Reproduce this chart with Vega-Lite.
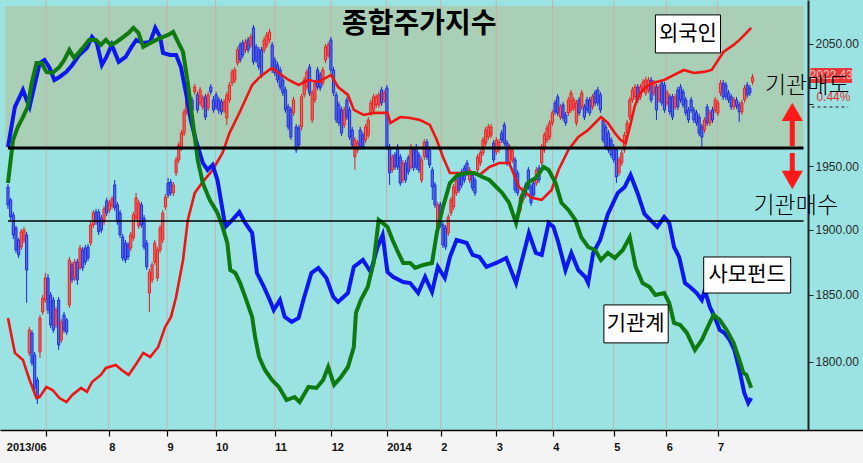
{
"$schema":"https://vega.github.io/schema/vega-lite/v6.json",
"width":863,"height":430,
"autosize":{"type":"none"},
"padding":{"left":0,"top":0,"right":0,"bottom":33},
"background":"#f4f4f4",
"config":{"view":{"fill":"#9be3e3","stroke":null},"font":"Liberation Sans"},
"datasets":{
"ticks":[{"d":14.3},{"d":37.8},{"d":59.6},{"d":77.8},{"d":100},{"d":121.1},{"d":141.9},{"d":162.2},{"d":183},{"d":204.1},{"d":227},{"d":246.7},{"d":265.9}],
"candles":[
{"d":0,"o":1933.5,"h":1935.9,"l":1916.2,"c":1919.4},
{"d":1,"o":1923.3,"h":1924.9,"l":1907.6,"c":1909.9},
{"d":2,"o":1911.5,"h":1913.9,"l":1892.8,"c":1895.9},
{"d":3,"o":1901.4,"h":1902.9,"l":1882.0,"c":1884.3},
{"d":4,"o":1892.0,"h":1893.6,"l":1878.1,"c":1880.5},
{"d":5,"o":1886.6,"h":1900.6,"l":1884.3,"c":1898.3},
{"d":6,"o":1892.0,"h":1902.2,"l":1889.7,"c":1899.8},
{"d":7,"o":1895.9,"h":1898.3,"l":1843.9,"c":1868.9},
{"d":8,"o":1806.6,"h":1825.9,"l":1804.3,"c":1823.6},
{"d":9,"o":1821.4,"h":1823.6,"l":1797.0,"c":1799.2},
{"d":10,"o":1805.1,"h":1807.3,"l":1777.2,"c":1780.9},
{"d":11,"o":1786.7,"h":1788.9,"l":1769.2,"c":1773.5},
{"d":12,"o":1807.3,"h":1834.9,"l":1802.9,"c":1832.6},
{"d":13,"o":1837.1,"h":1849.9,"l":1834.9,"c":1847.6},
{"d":14,"o":1846.1,"h":1866.6,"l":1843.9,"c":1862.8},
{"d":15,"o":1862.8,"h":1865.8,"l":1835.6,"c":1838.6},
{"d":16,"o":1849.9,"h":1852.2,"l":1825.1,"c":1827.4},
{"d":17,"o":1846.1,"h":1848.4,"l":1821.4,"c":1823.6},
{"d":18,"o":1827.4,"h":1840.9,"l":1825.1,"c":1838.6},
{"d":19,"o":1846.1,"h":1848.4,"l":1808.8,"c":1812.5},
{"d":20,"o":1816.2,"h":1831.9,"l":1814.0,"c":1829.6},
{"d":21,"o":1834.9,"h":1837.1,"l":1821.4,"c":1823.6},
{"d":22,"o":1831.1,"h":1832.6,"l":1819.9,"c":1822.1},
{"d":23,"o":1842.4,"h":1878.9,"l":1840.1,"c":1876.6},
{"d":24,"o":1872.8,"h":1875.1,"l":1859.0,"c":1861.3},
{"d":25,"o":1862.8,"h":1877.4,"l":1860.5,"c":1875.1},
{"d":26,"o":1875.1,"h":1877.4,"l":1857.5,"c":1861.3},
{"d":27,"o":1870.5,"h":1888.2,"l":1868.9,"c":1885.8},
{"d":28,"o":1884.3,"h":1886.6,"l":1868.1,"c":1870.5},
{"d":29,"o":1885.8,"h":1888.2,"l":1872.8,"c":1875.1},
{"d":30,"o":1886.6,"h":1889.0,"l":1875.8,"c":1878.1},
{"d":31,"o":1889.7,"h":1906.1,"l":1887.4,"c":1903.7},
{"d":32,"o":1903.7,"h":1915.4,"l":1901.4,"c":1913.1},
{"d":33,"o":1913.9,"h":1916.2,"l":1903.7,"c":1906.1},
{"d":34,"o":1913.9,"h":1916.2,"l":1895.9,"c":1898.3},
{"d":35,"o":1909.1,"h":1911.5,"l":1897.5,"c":1899.8},
{"d":36,"o":1906.1,"h":1918.6,"l":1903.7,"c":1916.2},
{"d":37,"o":1922.5,"h":1924.9,"l":1910.7,"c":1913.1},
{"d":38,"o":1915.4,"h":1923.3,"l":1913.1,"c":1920.9},
{"d":39,"o":1918.6,"h":1926.4,"l":1916.2,"c":1924.1},
{"d":40,"o":1935.1,"h":1939.0,"l":1914.6,"c":1917.0},
{"d":41,"o":1919.4,"h":1921.7,"l":1903.7,"c":1906.1},
{"d":42,"o":1913.1,"h":1915.4,"l":1893.6,"c":1895.9},
{"d":43,"o":1894.4,"h":1896.7,"l":1875.8,"c":1878.1},
{"d":44,"o":1889.7,"h":1892.0,"l":1874.3,"c":1876.6},
{"d":45,"o":1888.2,"h":1890.5,"l":1876.6,"c":1878.9},
{"d":46,"o":1885.8,"h":1898.3,"l":1883.5,"c":1895.9},
{"d":47,"o":1893.6,"h":1913.9,"l":1891.2,"c":1911.5},
{"d":48,"o":1909.1,"h":1928.8,"l":1906.8,"c":1924.9},
{"d":49,"o":1902.9,"h":1923.3,"l":1900.6,"c":1920.9},
{"d":50,"o":1919.4,"h":1921.7,"l":1901.4,"c":1903.7},
{"d":51,"o":1909.1,"h":1911.5,"l":1884.3,"c":1886.6},
{"d":52,"o":1889.7,"h":1892.0,"l":1868.9,"c":1871.3},
{"d":53,"o":1851.4,"h":1869.7,"l":1837.1,"c":1867.4},
{"d":54,"o":1861.3,"h":1875.1,"l":1859.0,"c":1872.8},
{"d":55,"o":1875.1,"h":1892.0,"l":1872.8,"c":1889.7},
{"d":56,"o":1862.8,"h":1886.6,"l":1860.5,"c":1884.3},
{"d":57,"o":1884.3,"h":1903.7,"l":1882.0,"c":1901.4},
{"d":58,"o":1892.0,"h":1915.4,"l":1889.7,"c":1913.1},
{"d":59,"o":1917.8,"h":1928.0,"l":1915.4,"c":1925.6},
{"d":60,"o":1936.6,"h":1940.6,"l":1924.9,"c":1927.2},
{"d":61,"o":1937.4,"h":1939.8,"l":1926.4,"c":1928.8},
{"d":62,"o":1928.8,"h":1937.4,"l":1926.4,"c":1935.1},
{"d":63,"o":1944.6,"h":1957.4,"l":1942.2,"c":1955.0},
{"d":64,"o":1955.0,"h":1969.4,"l":1952.6,"c":1967.0},
{"d":65,"o":1964.6,"h":1979.1,"l":1962.2,"c":1976.6},
{"d":66,"o":1976.6,"h":1996.2,"l":1974.2,"c":1993.8},
{"d":67,"o":1993.8,"h":2006.1,"l":1991.3,"c":2003.6},
{"d":68,"o":2006.1,"h":2008.5,"l":1995.4,"c":1997.9},
{"d":69,"o":2003.6,"h":2006.1,"l":1993.0,"c":1995.4},
{"d":70,"o":2010.2,"h":2016.7,"l":2007.7,"c":2014.3},
{"d":71,"o":2007.7,"h":2010.2,"l":1993.0,"c":1995.4},
{"d":72,"o":2001.2,"h":2014.3,"l":1998.7,"c":2011.8},
{"d":73,"o":1997.9,"h":2007.7,"l":1995.4,"c":2005.3},
{"d":74,"o":2006.1,"h":2008.5,"l":1987.2,"c":1989.6},
{"d":75,"o":1997.1,"h":2010.2,"l":1994.6,"c":2007.7},
{"d":76,"o":2014.3,"h":2016.7,"l":2007.7,"c":2010.2},
{"d":77,"o":2003.6,"h":2006.9,"l":1993.0,"c":1995.4},
{"d":78,"o":2007.7,"h":2010.2,"l":1995.4,"c":1997.9},
{"d":79,"o":2003.6,"h":2006.1,"l":1992.1,"c":1995.4},
{"d":80,"o":2002.0,"h":2004.4,"l":1991.3,"c":1993.8},
{"d":81,"o":1995.4,"h":2004.4,"l":1993.0,"c":2002.0},
{"d":82,"o":1988.8,"h":2010.2,"l":1983.2,"c":2007.7},
{"d":83,"o":2003.6,"h":2018.4,"l":2001.2,"c":2015.9},
{"d":84,"o":2017.5,"h":2029.1,"l":2015.1,"c":2026.7},
{"d":85,"o":2020.0,"h":2030.8,"l":2017.5,"c":2028.3},
{"d":86,"o":2034.1,"h":2047.5,"l":2031.7,"c":2045.0},
{"d":87,"o":2049.2,"h":2051.7,"l":2034.1,"c":2036.6},
{"d":88,"o":2050.8,"h":2053.4,"l":2038.3,"c":2040.8},
{"d":89,"o":2045.0,"h":2054.2,"l":2042.5,"c":2051.7},
{"d":90,"o":2053.4,"h":2055.9,"l":2042.5,"c":2045.0},
{"d":91,"o":2049.2,"h":2058.4,"l":2046.7,"c":2055.9},
{"d":92,"o":2063.5,"h":2066.0,"l":2032.5,"c":2035.0},
{"d":93,"o":2047.5,"h":2050.0,"l":2034.1,"c":2036.6},
{"d":94,"o":2045.0,"h":2047.5,"l":2028.3,"c":2030.8},
{"d":95,"o":2045.0,"h":2047.5,"l":2021.7,"c":2024.2},
{"d":96,"o":2045.0,"h":2055.9,"l":2042.5,"c":2053.4},
{"d":97,"o":2049.2,"h":2060.1,"l":2046.7,"c":2057.6},
{"d":98,"o":2053.4,"h":2062.6,"l":2050.8,"c":2060.1},
{"d":99,"o":2049.2,"h":2051.7,"l":2025.8,"c":2028.3},
{"d":100,"o":2036.6,"h":2039.1,"l":2023.3,"c":2025.8},
{"d":101,"o":2032.5,"h":2035.0,"l":2017.5,"c":2020.0},
{"d":102,"o":2028.3,"h":2030.8,"l":2011.8,"c":2014.3},
{"d":103,"o":2020.0,"h":2022.5,"l":2006.9,"c":2009.4},
{"d":104,"o":2011.8,"h":2014.3,"l":1993.0,"c":1995.4},
{"d":105,"o":1997.9,"h":2000.4,"l":1979.1,"c":1981.6},
{"d":106,"o":1995.4,"h":1997.9,"l":1971.0,"c":1973.4},
{"d":107,"o":1993.0,"h":2006.1,"l":1990.5,"c":2003.6},
{"d":108,"o":1981.6,"h":1984.0,"l":1960.6,"c":1963.0},
{"d":109,"o":1980.7,"h":1983.2,"l":1964.6,"c":1967.0},
{"d":110,"o":1981.6,"h":2008.5,"l":1979.1,"c":2006.1},
{"d":111,"o":2007.7,"h":2022.5,"l":2005.3,"c":2020.0},
{"d":112,"o":2014.3,"h":2029.1,"l":2011.8,"c":2026.7},
{"d":113,"o":2030.8,"h":2033.3,"l":2006.9,"c":2009.4},
{"d":114,"o":1987.2,"h":2011.8,"l":1984.8,"c":2009.4},
{"d":115,"o":2003.6,"h":2020.0,"l":2001.2,"c":2017.5},
{"d":116,"o":2028.3,"h":2030.8,"l":2011.8,"c":2014.3},
{"d":117,"o":2024.2,"h":2026.7,"l":2011.0,"c":2013.4},
{"d":118,"o":2017.5,"h":2030.8,"l":2015.1,"c":2028.3},
{"d":119,"o":2036.6,"h":2050.0,"l":2034.1,"c":2047.5},
{"d":120,"o":2040.8,"h":2051.7,"l":2038.3,"c":2049.2},
{"d":121,"o":2053.4,"h":2055.9,"l":2025.8,"c":2028.3},
{"d":122,"o":2028.3,"h":2030.8,"l":2006.9,"c":2009.4},
{"d":123,"o":2007.7,"h":2010.2,"l":1984.8,"c":1987.2},
{"d":124,"o":1999.5,"h":2002.0,"l":1982.4,"c":1984.8},
{"d":125,"o":1995.4,"h":1997.9,"l":1974.2,"c":1976.6},
{"d":126,"o":1983.2,"h":1997.9,"l":1980.7,"c":1995.4},
{"d":127,"o":2003.6,"h":2006.1,"l":1987.2,"c":1989.6},
{"d":128,"o":1995.4,"h":1997.9,"l":1971.0,"c":1973.4},
{"d":129,"o":1979.1,"h":1981.6,"l":1964.6,"c":1967.0},
{"d":130,"o":1957.4,"h":1973.4,"l":1947.0,"c":1971.0},
{"d":131,"o":1963.0,"h":1971.0,"l":1960.6,"c":1968.6},
{"d":132,"o":1979.1,"h":1981.6,"l":1963.0,"c":1965.4},
{"d":133,"o":1975.0,"h":1977.4,"l":1963.0,"c":1965.4},
{"d":134,"o":1971.0,"h":1984.0,"l":1968.6,"c":1981.6},
{"d":135,"o":1975.0,"h":1989.6,"l":1972.6,"c":1987.2},
{"d":136,"o":1993.0,"h":2003.6,"l":1990.5,"c":2001.2},
{"d":137,"o":1995.4,"h":2008.5,"l":1993.0,"c":2006.1},
{"d":138,"o":1999.5,"h":2008.5,"l":1997.1,"c":2006.1},
{"d":139,"o":1999.5,"h":2010.2,"l":1997.1,"c":2007.7},
{"d":140,"o":2011.8,"h":2014.3,"l":1998.7,"c":2001.2},
{"d":141,"o":2003.6,"h":2011.8,"l":2001.2,"c":2009.4},
{"d":142,"o":2013.4,"h":2015.9,"l":1963.0,"c":1965.4},
{"d":143,"o":1965.4,"h":1967.8,"l":1935.1,"c":1944.6},
{"d":144,"o":1947.0,"h":1959.8,"l":1944.6,"c":1957.4},
{"d":145,"o":1959.0,"h":1961.4,"l":1947.0,"c":1949.4},
{"d":146,"o":1965.4,"h":1967.8,"l":1947.0,"c":1949.4},
{"d":147,"o":1957.4,"h":1959.8,"l":1934.3,"c":1936.6},
{"d":148,"o":1939.0,"h":1955.0,"l":1936.6,"c":1952.6},
{"d":149,"o":1952.6,"h":1955.0,"l":1936.6,"c":1939.0},
{"d":150,"o":1956.6,"h":1959.0,"l":1943.0,"c":1945.4},
{"d":151,"o":1949.4,"h":1967.8,"l":1947.0,"c":1965.4},
{"d":152,"o":1963.0,"h":1965.4,"l":1946.2,"c":1948.6},
{"d":153,"o":1965.4,"h":1967.8,"l":1947.0,"c":1949.4},
{"d":154,"o":1959.0,"h":1961.4,"l":1944.6,"c":1947.0},
{"d":155,"o":1939.0,"h":1957.4,"l":1936.6,"c":1955.0},
{"d":156,"o":1957.4,"h":1971.8,"l":1955.0,"c":1969.4},
{"d":157,"o":1969.4,"h":1971.8,"l":1955.0,"c":1957.4},
{"d":158,"o":1963.0,"h":1965.4,"l":1948.6,"c":1951.0},
{"d":159,"o":1947.0,"h":1949.4,"l":1923.3,"c":1933.5},
{"d":160,"o":1935.1,"h":1937.4,"l":1917.0,"c":1919.4},
{"d":161,"o":1899.8,"h":1921.7,"l":1895.9,"c":1919.4},
{"d":162,"o":1919.4,"h":1921.7,"l":1901.4,"c":1903.7},
{"d":163,"o":1903.7,"h":1906.1,"l":1885.8,"c":1888.2},
{"d":164,"o":1901.4,"h":1903.7,"l":1884.3,"c":1886.6},
{"d":165,"o":1897.5,"h":1912.3,"l":1895.1,"c":1909.9},
{"d":166,"o":1913.1,"h":1925.6,"l":1910.7,"c":1923.3},
{"d":167,"o":1917.8,"h":1935.9,"l":1915.4,"c":1933.5},
{"d":168,"o":1928.8,"h":1941.4,"l":1926.4,"c":1939.0},
{"d":169,"o":1941.4,"h":1943.8,"l":1928.8,"c":1931.1},
{"d":170,"o":1945.4,"h":1947.8,"l":1932.7,"c":1935.1},
{"d":171,"o":1948.6,"h":1951.0,"l":1936.6,"c":1939.0},
{"d":172,"o":1952.6,"h":1955.0,"l":1942.2,"c":1944.6},
{"d":173,"o":1939.0,"h":1949.4,"l":1936.6,"c":1947.0},
{"d":174,"o":1943.0,"h":1945.4,"l":1930.3,"c":1932.7},
{"d":175,"o":1939.0,"h":1941.4,"l":1926.4,"c":1928.8},
{"d":176,"o":1947.0,"h":1959.8,"l":1944.6,"c":1957.4},
{"d":177,"o":1952.6,"h":1963.0,"l":1950.2,"c":1960.6},
{"d":178,"o":1960.6,"h":1973.4,"l":1958.2,"c":1971.0},
{"d":179,"o":1968.6,"h":1981.6,"l":1966.2,"c":1979.1},
{"d":180,"o":1973.4,"h":1984.0,"l":1971.0,"c":1981.6},
{"d":181,"o":1975.0,"h":1984.0,"l":1972.6,"c":1981.6},
{"d":182,"o":1968.6,"h":1971.0,"l":1952.6,"c":1955.0},
{"d":183,"o":1961.4,"h":1973.4,"l":1959.0,"c":1971.0},
{"d":184,"o":1963.0,"h":1971.8,"l":1960.6,"c":1969.4},
{"d":185,"o":1976.6,"h":1979.1,"l":1968.6,"c":1971.0},
{"d":186,"o":1983.2,"h":1985.6,"l":1966.2,"c":1968.6},
{"d":187,"o":1968.6,"h":1971.0,"l":1950.2,"c":1952.6},
{"d":188,"o":1952.6,"h":1967.8,"l":1950.2,"c":1965.4},
{"d":189,"o":1955.0,"h":1965.4,"l":1952.6,"c":1963.0},
{"d":190,"o":1955.0,"h":1957.4,"l":1928.8,"c":1931.1},
{"d":191,"o":1944.6,"h":1947.0,"l":1926.4,"c":1928.8},
{"d":192,"o":1915.4,"h":1928.0,"l":1913.1,"c":1925.6},
{"d":193,"o":1923.3,"h":1933.5,"l":1920.9,"c":1931.1},
{"d":194,"o":1935.1,"h":1937.4,"l":1924.9,"c":1927.2},
{"d":195,"o":1947.0,"h":1949.4,"l":1931.1,"c":1933.5},
{"d":196,"o":1933.5,"h":1935.9,"l":1918.6,"c":1920.9},
{"d":197,"o":1936.6,"h":1939.0,"l":1924.9,"c":1927.2},
{"d":198,"o":1936.6,"h":1949.4,"l":1934.3,"c":1947.0},
{"d":199,"o":1948.6,"h":1951.0,"l":1936.6,"c":1939.0},
{"d":200,"o":1952.6,"h":1967.8,"l":1950.2,"c":1965.4},
{"d":201,"o":1963.0,"h":1977.4,"l":1960.6,"c":1975.0},
{"d":202,"o":1971.0,"h":1983.2,"l":1968.6,"c":1980.7},
{"d":203,"o":1973.4,"h":1987.2,"l":1971.0,"c":1984.8},
{"d":204,"o":1984.8,"h":1995.4,"l":1982.4,"c":1993.0},
{"d":205,"o":2001.2,"h":2003.6,"l":1991.3,"c":1993.8},
{"d":206,"o":2006.1,"h":2008.5,"l":1990.5,"c":1993.0},
{"d":207,"o":1989.6,"h":2000.4,"l":1987.2,"c":1997.9},
{"d":208,"o":1999.5,"h":2002.0,"l":1986.4,"c":1988.8},
{"d":209,"o":1991.3,"h":1993.8,"l":1982.4,"c":1984.8},
{"d":210,"o":1993.0,"h":2006.1,"l":1990.5,"c":2003.6},
{"d":211,"o":1995.4,"h":2011.8,"l":1993.0,"c":2009.4},
{"d":212,"o":1997.1,"h":2006.1,"l":1994.6,"c":2003.6},
{"d":213,"o":1984.8,"h":2003.6,"l":1982.4,"c":2001.2},
{"d":214,"o":2003.6,"h":2006.1,"l":1990.5,"c":1993.0},
{"d":215,"o":1997.9,"h":2011.8,"l":1995.4,"c":2009.4},
{"d":216,"o":1997.9,"h":2000.4,"l":1987.2,"c":1989.6},
{"d":217,"o":2003.6,"h":2006.1,"l":1993.0,"c":1995.4},
{"d":218,"o":2003.6,"h":2006.1,"l":1990.5,"c":1993.0},
{"d":219,"o":1997.9,"h":2008.5,"l":1995.4,"c":2006.1},
{"d":220,"o":2009.4,"h":2011.8,"l":1998.7,"c":2001.2},
{"d":221,"o":2011.8,"h":2014.3,"l":1998.7,"c":2001.2},
{"d":222,"o":2007.7,"h":2010.2,"l":1993.0,"c":1995.4},
{"d":223,"o":1987.2,"h":1989.6,"l":1968.6,"c":1971.0},
{"d":224,"o":1981.6,"h":1984.0,"l":1963.0,"c":1965.4},
{"d":225,"o":1976.6,"h":1979.1,"l":1960.6,"c":1963.0},
{"d":226,"o":1971.0,"h":1973.4,"l":1956.6,"c":1959.0},
{"d":227,"o":1965.4,"h":1967.8,"l":1952.6,"c":1955.0},
{"d":228,"o":1963.0,"h":1965.4,"l":1936.6,"c":1941.4},
{"d":229,"o":1944.6,"h":1957.4,"l":1942.2,"c":1955.0},
{"d":230,"o":1952.6,"h":1963.0,"l":1950.2,"c":1960.6},
{"d":231,"o":1963.0,"h":1977.4,"l":1960.6,"c":1975.0},
{"d":232,"o":1976.6,"h":1987.2,"l":1974.2,"c":1984.8},
{"d":233,"o":1989.6,"h":2006.1,"l":1987.2,"c":2003.6},
{"d":234,"o":2003.6,"h":2014.3,"l":2001.2,"c":2011.8},
{"d":235,"o":2006.1,"h":2016.7,"l":2003.6,"c":2014.3},
{"d":236,"o":2014.3,"h":2016.7,"l":2001.2,"c":2003.6},
{"d":237,"o":2006.1,"h":2016.7,"l":2003.6,"c":2014.3},
{"d":238,"o":2011.8,"h":2020.8,"l":2009.4,"c":2018.4},
{"d":239,"o":2009.4,"h":2022.5,"l":2006.9,"c":2020.0},
{"d":240,"o":2011.8,"h":2022.5,"l":2009.4,"c":2020.0},
{"d":241,"o":2020.0,"h":2022.5,"l":2001.2,"c":2003.6},
{"d":242,"o":2009.4,"h":2020.0,"l":2006.9,"c":2017.5},
{"d":243,"o":2014.3,"h":2016.7,"l":1987.2,"c":1995.4},
{"d":244,"o":2003.6,"h":2016.7,"l":2001.2,"c":2014.3},
{"d":245,"o":2017.5,"h":2020.0,"l":1998.7,"c":2001.2},
{"d":246,"o":2015.9,"h":2018.4,"l":1993.0,"c":1995.4},
{"d":247,"o":2001.2,"h":2011.8,"l":1998.7,"c":2009.4},
{"d":248,"o":2006.1,"h":2008.5,"l":1991.3,"c":1993.8},
{"d":249,"o":2006.1,"h":2008.5,"l":1987.2,"c":1989.6},
{"d":250,"o":1997.9,"h":2008.5,"l":1995.4,"c":2006.1},
{"d":251,"o":2011.8,"h":2014.3,"l":1995.4,"c":1997.9},
{"d":252,"o":2014.3,"h":2016.7,"l":2001.2,"c":2003.6},
{"d":253,"o":2010.2,"h":2012.6,"l":1997.1,"c":1999.5},
{"d":254,"o":2003.6,"h":2006.1,"l":1990.5,"c":1993.0},
{"d":255,"o":1995.4,"h":1997.9,"l":1984.8,"c":1987.2},
{"d":256,"o":2003.6,"h":2006.1,"l":1993.0,"c":1995.4},
{"d":257,"o":1995.4,"h":1997.9,"l":1984.8,"c":1987.2},
{"d":258,"o":1993.0,"h":1995.4,"l":1982.4,"c":1984.8},
{"d":259,"o":1989.6,"h":1992.1,"l":1974.2,"c":1976.6},
{"d":260,"o":1981.6,"h":1984.0,"l":1965.4,"c":1973.4},
{"d":261,"o":1979.1,"h":1989.6,"l":1976.6,"c":1987.2},
{"d":262,"o":1997.9,"h":2000.4,"l":1982.4,"c":1984.8},
{"d":263,"o":1984.8,"h":1995.4,"l":1982.4,"c":1993.0},
{"d":264,"o":1995.4,"h":1997.9,"l":1984.8,"c":1987.2},
{"d":265,"o":1995.4,"h":2006.1,"l":1993.0,"c":2003.6},
{"d":266,"o":1993.0,"h":2003.6,"l":1990.5,"c":2001.2},
{"d":267,"o":2009.4,"h":2020.0,"l":2006.9,"c":2017.5},
{"d":268,"o":2017.5,"h":2020.0,"l":2003.6,"c":2006.1},
{"d":269,"o":2015.9,"h":2018.4,"l":2003.6,"c":2006.1},
{"d":270,"o":2009.4,"h":2011.8,"l":2001.2,"c":2003.6},
{"d":271,"o":2006.1,"h":2008.5,"l":1995.4,"c":1997.9},
{"d":272,"o":1997.9,"h":2006.1,"l":1995.4,"c":2003.6},
{"d":273,"o":2003.6,"h":2006.1,"l":1996.2,"c":1998.7},
{"d":274,"o":1999.5,"h":2002.0,"l":1985.6,"c":1993.8},
{"d":275,"o":1993.8,"h":2003.6,"l":1991.3,"c":2001.2},
{"d":276,"o":2003.6,"h":2015.9,"l":2001.2,"c":2013.4},
{"d":277,"o":2015.9,"h":2018.4,"l":2005.3,"c":2007.7},
{"d":278,"o":2013.4,"h":2015.9,"l":2006.9,"c":2009.4},
{"d":279,"o":2018.4,"h":2025.0,"l":2015.9,"c":2022.4}
],
"foreign":[{"d":0,"v":1832.6},{"d":2.6,"v":1806.6},{"d":5.6,"v":1801.4},{"d":8.1,"v":1786.7},{"d":10.7,"v":1773.5},{"d":11.9,"v":1774.3},{"d":14.4,"v":1781.6},{"d":16.7,"v":1779.4},{"d":19.3,"v":1773.5},{"d":21.9,"v":1770.6},{"d":24.1,"v":1775.8},{"d":27.4,"v":1780.9},{"d":29.6,"v":1778.0},{"d":31.5,"v":1785.2},{"d":34.8,"v":1790.4},{"d":36.7,"v":1795.5},{"d":40.4,"v":1797.7},{"d":42.6,"v":1794.0},{"d":45.2,"v":1790.4},{"d":47.8,"v":1797.7},{"d":50.7,"v":1806.6},{"d":53.3,"v":1803.6},{"d":56.3,"v":1811.0},{"d":58.9,"v":1825.9},{"d":61.1,"v":1833.4},{"d":63.0,"v":1848.4},{"d":65.6,"v":1876.6},{"d":67.4,"v":1907.6},{"d":70.0,"v":1928.8},{"d":73.0,"v":1937.5},{"d":76.7,"v":1947.0},{"d":80.4,"v":1960.6},{"d":83.0,"v":1976.6},{"d":86.7,"v":1992.9},{"d":91.5,"v":2015.9},{"d":94.4,"v":2022.5},{"d":98.9,"v":2030.0},{"d":101.5,"v":2025.8},{"d":105.2,"v":2020.0},{"d":108.9,"v":2015.9},{"d":112.6,"v":2020.0},{"d":116.3,"v":2018.4},{"d":121.1,"v":2024.2},{"d":123.7,"v":2014.2},{"d":127.4,"v":2007.7},{"d":129.6,"v":1995.4},{"d":133.3,"v":1991.3},{"d":137.0,"v":1993.0},{"d":142.2,"v":1993.0},{"d":143.3,"v":1984.8},{"d":147.0,"v":1989.6},{"d":150.7,"v":1988.8},{"d":154.4,"v":1987.2},{"d":158.1,"v":1983.2},{"d":160.7,"v":1971.0},{"d":163.0,"v":1957.4},{"d":165.6,"v":1944.6},{"d":169.3,"v":1944.6},{"d":173.0,"v":1944.6},{"d":176.7,"v":1943.0},{"d":180.4,"v":1949.4},{"d":184.1,"v":1952.6},{"d":187.8,"v":1952.6},{"d":191.5,"v":1933.5},{"d":194.1,"v":1928.8},{"d":196.3,"v":1924.9},{"d":200.0,"v":1923.3},{"d":203.7,"v":1931.1},{"d":206.3,"v":1947.0},{"d":210.0,"v":1963.0},{"d":213.7,"v":1973.4},{"d":217.4,"v":1979.1},{"d":222.2,"v":1989.6},{"d":224.8,"v":1984.8},{"d":227.4,"v":1976.6},{"d":229.6,"v":1971.0},{"d":231.5,"v":1968.6},{"d":233.3,"v":1984.0},{"d":234.8,"v":1998.0},{"d":236.5,"v":2008.0},{"d":239.0,"v":2014.2},{"d":241.5,"v":2017.5},{"d":245.9,"v":2020.0},{"d":249.6,"v":2024.2},{"d":253.3,"v":2028.3},{"d":257.0,"v":2025.8},{"d":260.7,"v":2026.7},{"d":263.7,"v":2028.3},{"d":268.1,"v":2043.3},{"d":271.9,"v":2049.2},{"d":274.1,"v":2053.4},{"d":276.7,"v":2059.3},{"d":278.5,"v":2063.5}],
"fund":[{"d":0,"v":1965.4},{"d":2.6,"v":1997.9},{"d":4.4,"v":2006.1},{"d":5.6,"v":2011.8},{"d":7.0,"v":2003.6},{"d":8.1,"v":1997.9},{"d":10.0,"v":2015.9},{"d":11.9,"v":2034.1},{"d":13.7,"v":2036.6},{"d":15.6,"v":2030.0},{"d":17.4,"v":2020.0},{"d":19.3,"v":2022.5},{"d":21.9,"v":2026.7},{"d":24.1,"v":2032.5},{"d":26.7,"v":2040.8},{"d":29.6,"v":2046.7},{"d":31.5,"v":2055.9},{"d":33.3,"v":2050.8},{"d":35.2,"v":2032.5},{"d":36.7,"v":2038.3},{"d":38.9,"v":2049.2},{"d":41.5,"v":2035.0},{"d":44.1,"v":2039.1},{"d":46.3,"v":2047.5},{"d":48.1,"v":2053.4},{"d":50.7,"v":2050.8},{"d":53.3,"v":2051.7},{"d":55.2,"v":2063.5},{"d":57.0,"v":2055.9},{"d":58.1,"v":2042.5},{"d":60.7,"v":2040.8},{"d":63.0,"v":2040.8},{"d":64.8,"v":2030.8},{"d":66.7,"v":2009.3},{"d":68.5,"v":1987.2},{"d":70.4,"v":1971.0},{"d":73.0,"v":1952.6},{"d":74.8,"v":1947.0},{"d":76.7,"v":1951.0},{"d":78.5,"v":1939.0},{"d":80.4,"v":1915.4},{"d":81.5,"v":1902.2},{"d":84.1,"v":1907.6},{"d":86.7,"v":1913.8},{"d":88.9,"v":1905.3},{"d":91.5,"v":1897.5},{"d":93.3,"v":1866.6},{"d":95.9,"v":1856.0},{"d":98.1,"v":1846.1},{"d":99.6,"v":1838.6},{"d":101.9,"v":1846.1},{"d":103.7,"v":1833.4},{"d":106.3,"v":1829.6},{"d":108.9,"v":1832.6},{"d":110.7,"v":1846.1},{"d":113.7,"v":1866.6},{"d":116.3,"v":1870.5},{"d":119.3,"v":1862.8},{"d":121.9,"v":1848.4},{"d":123.7,"v":1844.6},{"d":127.4,"v":1851.4},{"d":129.6,"v":1871.3},{"d":133.0,"v":1876.6},{"d":135.9,"v":1867.4},{"d":138.5,"v":1886.6},{"d":140.4,"v":1895.9},{"d":142.2,"v":1867.4},{"d":144.4,"v":1863.6},{"d":148.1,"v":1859.8},{"d":150.7,"v":1859.0},{"d":153.7,"v":1851.4},{"d":156.3,"v":1863.6},{"d":158.9,"v":1852.2},{"d":161.1,"v":1871.3},{"d":163.7,"v":1862.8},{"d":165.6,"v":1878.9},{"d":168.1,"v":1892.0},{"d":171.9,"v":1889.7},{"d":174.1,"v":1880.5},{"d":176.7,"v":1878.9},{"d":179.3,"v":1871.3},{"d":183.0,"v":1874.3},{"d":186.7,"v":1878.1},{"d":190.4,"v":1859.0},{"d":193.3,"v":1882.0},{"d":195.2,"v":1897.5},{"d":197.8,"v":1882.0},{"d":200.0,"v":1880.5},{"d":202.6,"v":1905.3},{"d":204.4,"v":1902.2},{"d":206.3,"v":1889.7},{"d":208.9,"v":1868.9},{"d":211.1,"v":1882.0},{"d":213.7,"v":1868.9},{"d":216.3,"v":1863.6},{"d":217.4,"v":1859.0},{"d":219.3,"v":1882.0},{"d":221.9,"v":1892.0},{"d":224.8,"v":1912.3},{"d":225.9,"v":1917.0},{"d":228.5,"v":1928.8},{"d":231.1,"v":1933.5},{"d":233.3,"v":1943.0},{"d":235.9,"v":1928.8},{"d":238.5,"v":1912.3},{"d":240.7,"v":1907.6},{"d":243.3,"v":1902.2},{"d":245.9,"v":1909.9},{"d":247.8,"v":1905.3},{"d":249.6,"v":1886.6},{"d":251.5,"v":1878.9},{"d":253.7,"v":1859.0},{"d":255.6,"v":1856.0},{"d":258.1,"v":1851.4},{"d":260.0,"v":1846.1},{"d":261.1,"v":1853.7},{"d":263.0,"v":1840.9},{"d":264.8,"v":1833.4},{"d":266.7,"v":1823.6},{"d":268.5,"v":1821.4},{"d":270.4,"v":1816.2},{"d":272.2,"v":1808.8},{"d":274.1,"v":1794.0},{"d":275.9,"v":1777.2},{"d":277.4,"v":1769.9},{"d":278.5,"v":1773.5}],
"inst":[{"d":0,"v":1936.7},{"d":1.9,"v":1971.0},{"d":3.7,"v":1981.5},{"d":5.6,"v":1989.6},{"d":7.4,"v":1997.9},{"d":8.9,"v":2017.5},{"d":10.7,"v":2034.1},{"d":12.6,"v":2034.1},{"d":14.4,"v":2026.7},{"d":16.7,"v":2025.8},{"d":19.3,"v":2030.8},{"d":21.1,"v":2036.6},{"d":23.0,"v":2045.0},{"d":24.8,"v":2038.3},{"d":27.4,"v":2045.0},{"d":30.4,"v":2053.4},{"d":33.0,"v":2053.4},{"d":34.8,"v":2049.2},{"d":36.7,"v":2053.4},{"d":38.5,"v":2049.2},{"d":40.7,"v":2051.7},{"d":43.3,"v":2055.9},{"d":45.2,"v":2059.3},{"d":47.0,"v":2063.5},{"d":48.9,"v":2059.3},{"d":50.7,"v":2047.5},{"d":53.3,"v":2050.8},{"d":55.6,"v":2053.4},{"d":58.1,"v":2055.9},{"d":60.0,"v":2057.6},{"d":61.9,"v":2060.1},{"d":63.7,"v":2051.7},{"d":65.6,"v":2043.3},{"d":67.4,"v":2017.5},{"d":69.3,"v":1984.8},{"d":71.1,"v":1955.0},{"d":73.0,"v":1936.7},{"d":75.6,"v":1923.3},{"d":78.5,"v":1913.1},{"d":80.4,"v":1902.2},{"d":82.2,"v":1889.7},{"d":83.3,"v":1868.9},{"d":85.2,"v":1866.6},{"d":87.0,"v":1859.0},{"d":88.9,"v":1848.4},{"d":91.5,"v":1833.4},{"d":92.6,"v":1818.4},{"d":94.1,"v":1803.6},{"d":96.3,"v":1794.0},{"d":98.9,"v":1786.7},{"d":101.5,"v":1781.6},{"d":104.4,"v":1772.1},{"d":107.4,"v":1774.3},{"d":109.3,"v":1770.6},{"d":112.6,"v":1781.6},{"d":115.6,"v":1780.9},{"d":118.1,"v":1786.7},{"d":120.0,"v":1796.2},{"d":122.2,"v":1783.1},{"d":124.8,"v":1788.9},{"d":127.4,"v":1796.2},{"d":129.6,"v":1811.0},{"d":130.4,"v":1836.4},{"d":132.2,"v":1846.1},{"d":134.8,"v":1856.0},{"d":137.0,"v":1874.3},{"d":138.9,"v":1907.6},{"d":140.4,"v":1905.3},{"d":142.2,"v":1902.2},{"d":144.1,"v":1892.0},{"d":146.3,"v":1882.0},{"d":148.1,"v":1874.3},{"d":150.7,"v":1874.3},{"d":152.6,"v":1870.5},{"d":155.6,"v":1872.8},{"d":158.9,"v":1874.3},{"d":160.7,"v":1897.5},{"d":163.0,"v":1917.8},{"d":165.6,"v":1936.7},{"d":168.5,"v":1943.0},{"d":171.9,"v":1944.6},{"d":174.8,"v":1944.6},{"d":177.8,"v":1941.4},{"d":180.4,"v":1939.0},{"d":183.0,"v":1933.5},{"d":185.2,"v":1928.8},{"d":187.8,"v":1920.9},{"d":190.4,"v":1905.3},{"d":192.6,"v":1925.6},{"d":195.2,"v":1937.5},{"d":197.8,"v":1940.6},{"d":200.7,"v":1949.4},{"d":202.6,"v":1947.0},{"d":205.2,"v":1936.7},{"d":207.4,"v":1921.0},{"d":210.0,"v":1915.4},{"d":212.6,"v":1907.6},{"d":214.8,"v":1894.3},{"d":217.4,"v":1886.6},{"d":220.0,"v":1884.3},{"d":222.2,"v":1876.6},{"d":224.8,"v":1882.0},{"d":227.4,"v":1878.1},{"d":230.4,"v":1884.3},{"d":233.0,"v":1894.3},{"d":235.2,"v":1871.3},{"d":237.8,"v":1859.0},{"d":240.4,"v":1856.0},{"d":242.6,"v":1849.9},{"d":245.9,"v":1851.4},{"d":247.8,"v":1843.9},{"d":249.6,"v":1828.9},{"d":251.9,"v":1827.4},{"d":254.4,"v":1821.4},{"d":257.4,"v":1808.8},{"d":260.0,"v":1816.2},{"d":262.6,"v":1827.4},{"d":264.4,"v":1834.9},{"d":266.7,"v":1831.1},{"d":269.3,"v":1823.6},{"d":271.9,"v":1814.0},{"d":273.7,"v":1803.6},{"d":275.6,"v":1791.8},{"d":276.7,"v":1790.4},{"d":278.5,"v":1780.9}]
},
"layer":[
{"data":{"values":[{}]},"mark":{"type":"rect","color":"#a9cfb6"},
 "encoding":{
  "x":{"datum":-1.111,"type":"quantitative","scale":{"type":"linear","domain":[-1.111,318.52],"nice":false,"zero":false},
   "axis":{"title":null,"values":[14.3,37.8,59.6,77.8,100,121.1,141.9,162.2,183,204.1,227,246.7,265.9],
    "labelExpr":"['2013/06','8','9','10','11','12','2014','2','3','4','5','6','7'][indexof([14.3,37.8,59.6,77.8,100,121.1,141.9,162.2,183,204.1,227,246.7,265.9], datum.value)]",
    "labelAlign":{"condition":{"test":"datum.value < 20","value":"right"},"value":"left"},
    "labelFlush":false,"labelOverlap":false,"grid":false,"domainColor":"#000000","domainWidth":1.5,"tickColor":"#000000","tickSize":6,"tickWidth":1.2,
    "labelFont":"Liberation Sans","labelFontSize":11,"labelFontWeight":"bold","labelColor":"#111111","labelPadding":5}},
  "x2":{"datum":298.1},
  "y":{"datum":2082,"type":"quantitative","scale":{"type":"log","domain":[1750.5,2087.2],"nice":false,"zero":false},
   "axis":{"title":null,"orient":"right","offset":-55,"values":[1800,1850,1900,1950,2000,2050],
    "labelExpr":"datum.value == 2000 ? '' : format(datum.value, '.2f')","grid":false,"labelOverlap":false,"labelFlush":false,
    "domainColor":"#222222","domainWidth":2,"tickColor":"#222222","tickSize":5,"labelFont":"Liberation Sans","labelFontSize":12,"labelColor":"#2a2a2a","labelPadding":2}},
  "y2":{"datum":1964.6}}},
{"data":{"name":"ticks"},"mark":{"type":"rule","color":"#c3b3ae","strokeWidth":1},
 "encoding":{"x":{"field":"d","type":"quantitative","scale":{"type":"linear","domain":[-1.111,318.52],"nice":false,"zero":false}}}},
{"data":{"name":"candles"},"mark":{"type":"rule","strokeWidth":1},
 "encoding":{"x":{"field":"d","type":"quantitative","scale":{"type":"linear","domain":[-1.111,318.52],"nice":false,"zero":false}},
  "y":{"field":"l","type":"quantitative","scale":{"type":"log","domain":[1750.5,2087.2],"nice":false,"zero":false}},
  "y2":{"field":"h"},
  "color":{"condition":{"test":"datum.c >= datum.o","value":"#e81c1c"},"value":"#1a28d8"}}},
{"data":{"name":"candles"},"mark":{"type":"bar","size":2.2,"strokeWidth":0.9},
 "encoding":{"x":{"field":"d","type":"quantitative","scale":{"type":"linear","domain":[-1.111,318.52],"nice":false,"zero":false}},
  "y":{"field":"o","type":"quantitative","scale":{"type":"log","domain":[1750.5,2087.2],"nice":false,"zero":false}},
  "y2":{"field":"c"},
  "fill":{"condition":{"test":"datum.c >= datum.o","value":"#ee6464"},"value":"#5a68e6"},
  "stroke":{"condition":{"test":"datum.c >= datum.o","value":"#e81c1c"},"value":"#1a28d8"}}},
{"data":{"name":"foreign"},"mark":{"type":"line","color":"#f01414","strokeWidth":2.6},
 "encoding":{"x":{"field":"d","type":"quantitative","scale":{"type":"linear","domain":[-1.111,318.52],"nice":false,"zero":false}},
  "y":{"field":"v","type":"quantitative","scale":{"type":"log","domain":[1750.5,2087.2],"nice":false,"zero":false}}}},
{"data":{"name":"fund"},"mark":{"type":"line","color":"#0c18ee","strokeWidth":4},
 "encoding":{"x":{"field":"d","type":"quantitative","scale":{"type":"linear","domain":[-1.111,318.52],"nice":false,"zero":false}},
  "y":{"field":"v","type":"quantitative","scale":{"type":"log","domain":[1750.5,2087.2],"nice":false,"zero":false}}}},
{"data":{"name":"inst"},"mark":{"type":"line","color":"#0e7a10","strokeWidth":4},
 "encoding":{"x":{"field":"d","type":"quantitative","scale":{"type":"linear","domain":[-1.111,318.52],"nice":false,"zero":false}},
  "y":{"field":"v","type":"quantitative","scale":{"type":"log","domain":[1750.5,2087.2],"nice":false,"zero":false}}}},
{"data":{"values":[{}]},"mark":{"type":"rule","color":"#000000","strokeWidth":3},
 "encoding":{"x":{"datum":0,"type":"quantitative"},"x2":{"datum":298.1},"y":{"datum":1964.6,"type":"quantitative"}}},
{"data":{"values":[{}]},"mark":{"type":"rule","color":"#000000","strokeWidth":1.5},
 "encoding":{"x":{"datum":0,"type":"quantitative"},"x2":{"datum":298.1},"y":{"datum":1906.8,"type":"quantitative"}}},
{"data":{"values":[{}]},"mark":{"type":"text","text":"종합주가지수","font":"Noto Sans CJK KR","fontSize":28,"fontWeight":"bold","color":"#000000","align":"center","baseline":"middle"},
 "encoding":{"x":{"datum":154.1,"type":"quantitative"},"y":{"datum":2065.6,"type":"quantitative"}}},
{"data":{"values":[{}]},"mark":{"type":"rect","fill":"#ffffff","stroke":"#000000","strokeWidth":1},
 "encoding":{"x":{"datum":242.6,"type":"quantitative"},"x2":{"datum":267.0},"y":{"datum":2074.5,"type":"quantitative"},"y2":{"datum":2042.5}}},
{"data":{"values":[{}]},"mark":{"type":"text","text":"외국인","font":"Noto Sans CJK KR","fontSize":21,"color":"#000000","align":"center","baseline":"middle"},
 "encoding":{"x":{"datum":254.8,"type":"quantitative"},"y":{"datum":2058.4,"type":"quantitative"}}},
{"data":{"values":[{}]},"mark":{"type":"rect","fill":"#ffffff","stroke":"#000000","strokeWidth":1},
 "encoding":{"x":{"datum":260.7,"type":"quantitative"},"x2":{"datum":293.3},"y":{"datum":1878.9,"type":"quantitative"},"y2":{"datum":1851.4}}},
{"data":{"values":[{}]},"mark":{"type":"text","text":"사모펀드","font":"Noto Sans CJK KR","fontSize":21,"color":"#000000","align":"center","baseline":"middle"},
 "encoding":{"x":{"datum":277.0,"type":"quantitative"},"y":{"datum":1865.1,"type":"quantitative"}}},
{"data":{"values":[{}]},"mark":{"type":"rect","fill":"#ffffff","stroke":"#000000","strokeWidth":1},
 "encoding":{"x":{"datum":223.3,"type":"quantitative"},"x2":{"datum":247.4},"y":{"datum":1842.4,"type":"quantitative"},"y2":{"datum":1814.0}}},
{"data":{"values":[{}]},"mark":{"type":"text","text":"기관계","font":"Noto Sans CJK KR","fontSize":21,"color":"#000000","align":"center","baseline":"middle"},
 "encoding":{"x":{"datum":235.2,"type":"quantitative"},"y":{"datum":1828.1,"type":"quantitative"}}},
{"data":{"values":[{}]},"mark":{"type":"rect","fill":"#e83a3a"},
 "encoding":{"x":{"datum":300.7,"type":"quantitative"},"x2":{"datum":316.3},"y":{"datum":2030.0,"type":"quantitative"},"y2":{"datum":2017.5}}},
{"data":{"values":[{}]},"mark":{"type":"text","text":"2022.43","font":"Liberation Sans","fontSize":12,"color":"#ffc4c4","align":"center","baseline":"middle"},
 "encoding":{"x":{"datum":308.5,"type":"quantitative"},"y":{"datum":2023.8,"type":"quantitative"}}},
{"data":{"values":[{}]},"mark":{"type":"text","text":"0.44%","font":"Liberation Sans","fontSize":12,"color":"#e03030","align":"center","baseline":"middle"},
 "encoding":{"x":{"datum":309.3,"type":"quantitative"},"y":{"datum":2006.1,"type":"quantitative"}}},
{"data":{"values":[{}]},"mark":{"type":"rule","color":"#555555","strokeWidth":1.5,"strokeDash":[3,3]},
 "encoding":{"x":{"datum":301.1,"type":"quantitative"},"x2":{"datum":314.8},"y":{"datum":1997.9,"type":"quantitative"}}},
{"data":{"values":[{}]},"mark":{"type":"rule","color":"#ff1a1a","strokeWidth":5},
 "encoding":{"x":{"datum":293.9,"type":"quantitative"},"y":{"datum":1987.2,"type":"quantitative"},"y2":{"datum":1966.2}}},
{"data":{"values":[{}]},"mark":{"type":"point","shape":"triangle-up","filled":true,"size":450,"color":"#ff1a1a","opacity":1},
 "encoding":{"x":{"datum":293.9,"type":"quantitative"},"y":{"datum":1993.8,"type":"quantitative"}}},
{"data":{"values":[{}]},"mark":{"type":"rule","color":"#ff1a1a","strokeWidth":5},
 "encoding":{"x":{"datum":293.9,"type":"quantitative"},"y":{"datum":1960.6,"type":"quantitative"},"y2":{"datum":1945.4}}},
{"data":{"values":[{}]},"mark":{"type":"point","shape":"triangle-down","filled":true,"size":450,"color":"#ff1a1a","opacity":1},
 "encoding":{"x":{"datum":293.9,"type":"quantitative"},"y":{"datum":1939.0,"type":"quantitative"}}},
{"data":{"values":[{}]},"mark":{"type":"text","text":"기관매도","font":"Noto Sans CJK KR","fontSize":23,"fontWeight":300,"color":"#000000","align":"center","baseline":"middle"},
 "encoding":{"x":{"datum":299.5,"type":"quantitative"},"y":{"datum":2015.1,"type":"quantitative"}}},
{"data":{"values":[{}]},"mark":{"type":"text","text":"기관매수","font":"Noto Sans CJK KR","fontSize":23,"fontWeight":300,"color":"#000000","align":"center","baseline":"middle"},
 "encoding":{"x":{"datum":295.2,"type":"quantitative"},"y":{"datum":1918.6,"type":"quantitative"}}}
]
}
